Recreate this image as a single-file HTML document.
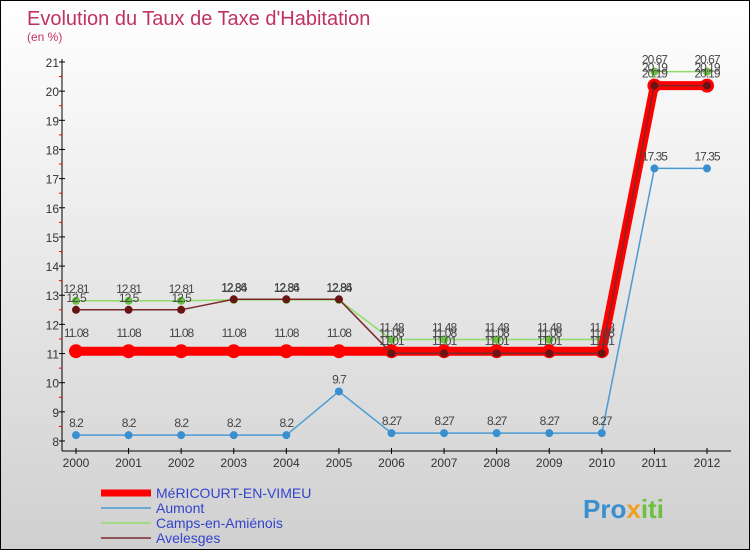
<!DOCTYPE html>
<html><head><meta charset="utf-8"><style>
body{margin:0;}
#c{position:relative;width:748px;height:548px;border:1px solid #000;background:linear-gradient(#fff,#d0d0d0);font-family:"Liberation Sans",sans-serif;overflow:hidden}
</style></head><body>
<div id="c">
<svg id="s" width="748" height="548">
<text x="26" y="24" font-size="20" fill="#c0335f">Evolution du Taux de Taxe d'Habitation</text>
<text x="26" y="40" font-size="12" fill="#c0335f">(en %)</text>
<g id="axes"></g><g id="series"></g>
<g>
<line x1="100" y1="492" x2="150" y2="492" stroke="#f00" stroke-width="7"/>
<text x="155" y="497" font-size="14" fill="#3344cc">MéRICOURT-EN-VIMEU</text>
<line x1="100" y1="507" x2="150" y2="507" stroke="#4a9bd4" stroke-width="1.5"/>
<text x="155" y="512" font-size="14" fill="#3344cc">Aumont</text>
<line x1="100" y1="522" x2="150" y2="522" stroke="#8fdc6a" stroke-width="1.5"/>
<text x="155" y="527" font-size="14" fill="#3344cc">Camps-en-Amiénois</text>
<line x1="100" y1="537" x2="150" y2="537" stroke="#7a2a2a" stroke-width="1.5"/>
<text x="155" y="542" font-size="14" fill="#3344cc">Avelesges</text>
</g>
<text x="582" y="517" font-size="26" font-weight="bold" fill="#3a8fd0">Pro<tspan fill="#f0a020">x</tspan><tspan fill="#6cc040">iti</tspan></text>
</svg></div>
<script>
const years=[2000,2001,2002,2003,2004,2005,2006,2007,2008,2009,2010,2011,2012];
const yTicks=[8,9,10,11,12,13,14,15,16,17,18,19,20,21];
const mericourt=[11.08,11.08,11.08,11.08,11.08,11.08,11.08,11.08,11.08,11.08,11.08,20.19,20.19];
const aumont=[8.2,8.2,8.2,8.2,8.2,9.7,8.27,8.27,8.27,8.27,8.27,17.35,17.35];
const camps=[12.81,12.81,12.81,12.84,12.84,12.84,11.48,11.48,11.48,11.48,11.48,20.67,20.67];
const avelesges=[12.5,12.5,12.5,12.86,12.86,12.86,11.01,11.01,11.01,11.01,11.01,20.19,20.19];
const NS="http://www.w3.org/2000/svg";
const X=i=>75+i*(706-75)/12, Y=v=>440-(v-8)*(440-61)/13;
function mk(t,a,p){const e=document.createElementNS(NS,t);for(const k in a)e.setAttribute(k,a[k]);p.appendChild(e);return e;}
const ax=document.getElementById('axes');
const yl=mk('line',{x1:61,y1:58,x2:61,y2:450,stroke:'#000'},ax);

const xl=mk('line',{x1:61,y1:450,x2:730,y2:450,stroke:'#000'},ax);

yTicks.forEach(v=>{mk('line',{x1:58,y1:Y(v),x2:64,y2:Y(v),stroke:'#000'},ax);
 if(v<21)mk('line',{x1:58,y1:Y(v+0.5),x2:61,y2:Y(v+0.5),stroke:'#f00'},ax);
 const t=mk('text',{x:58,y:Y(v)+5,'font-size':12,'text-anchor':'end',fill:'#333'},ax);t.textContent=v;
 });
years.forEach((y,i)=>{mk('line',{x1:X(i),y1:447,x2:X(i),y2:453,stroke:'#000'},ax);
 const t=mk('text',{x:X(i),y:466,'font-size':12,'text-anchor':'middle',fill:'#333'},ax);t.textContent=y;
 });
const sg=document.getElementById('series');
function series(name,d,col,w,r,dot,lab){
 const g=mk('g',{},sg);
 const p=mk('polyline',{points:d.map((v,i)=>X(i)+','+Y(v)).join(' '),fill:'none',stroke:col,'stroke-width':w},g);
 
 d.forEach((v,i)=>{const c=mk('circle',{cx:X(i),cy:Y(v),r:r,fill:dot},g);
  
  const t=mk('text',{x:X(i),y:Y(v)-lab,'font-size':12,'text-anchor':'middle',fill:'#444','letter-spacing':'-1'},g);t.textContent=v;
  });
}
series('camps',camps,'#8fdc6a',1.5,4,'#6cc040',8);
series('mericourt',mericourt,'#f00',9,7,'#f00',14);
series('avelesges',avelesges,'#7a2a2a',1.5,4,'#6a1515',8);
series('aumont',aumont,'#4a9bd4',1.5,4,'#3a8fd0',8);
</script>
</body></html>
